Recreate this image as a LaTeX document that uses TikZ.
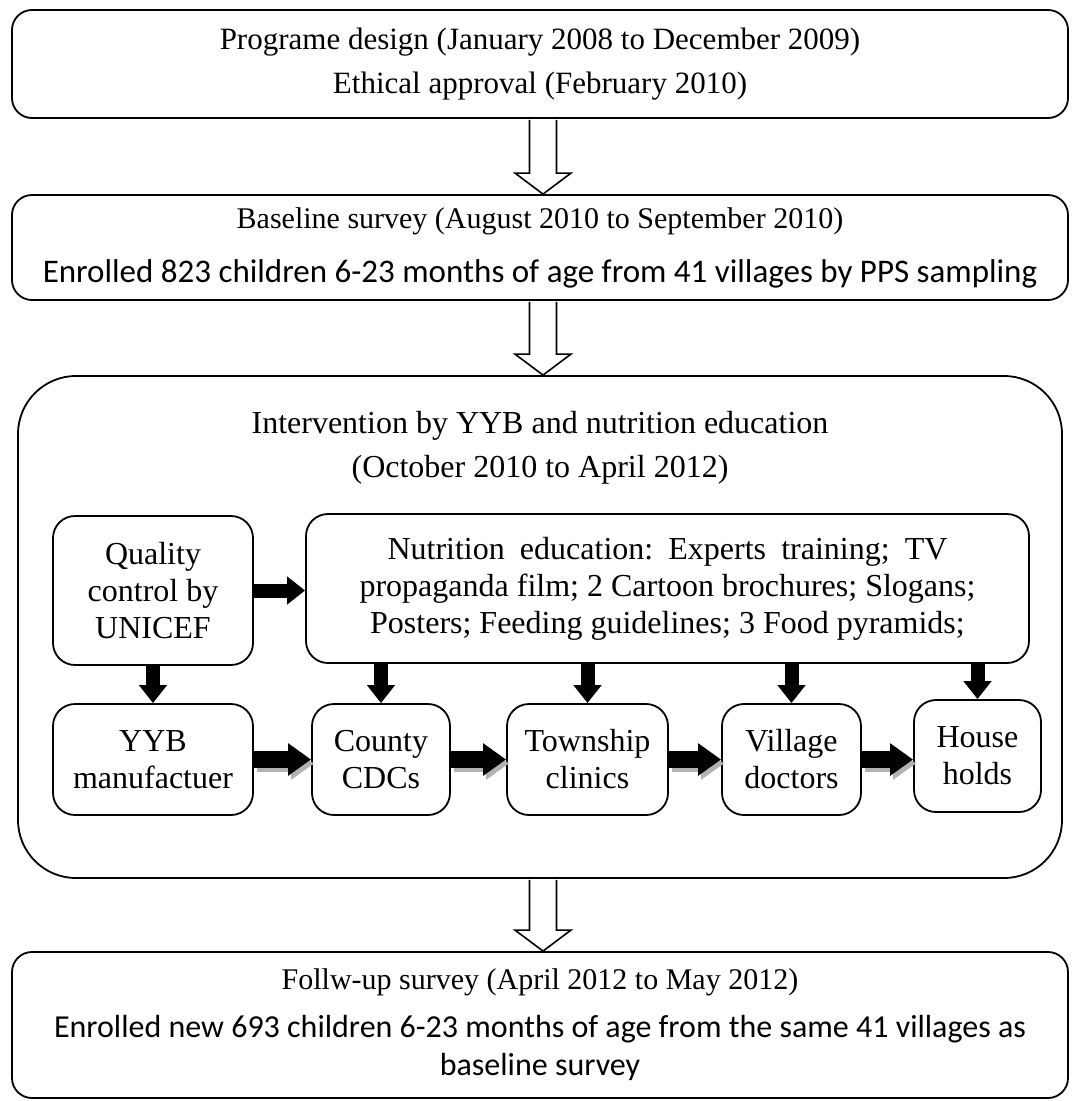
\documentclass[tikz,border=0pt]{standalone}
\usepackage{fontspec}
\setmainfont{Liberation Serif}
\newfontfamily\calib{Carlito}
\usetikzlibrary{arrows.meta,calc}
\tikzset{
  box/.style={draw, line width=1.8pt, rounded corners=20pt, align=center, inner sep=0pt},
  inbox/.style={draw, line width=1.8pt, rounded corners=22pt, align=center, inner sep=0pt,
    font=\fontsize{32}{37}\selectfont},
  hollowarr/.style={draw, line width=1.6pt, fill=white, line join=miter},
  fatarr/.style={line width=14pt, -{Triangle[width=27pt,length=18pt]}},
  fatterarr/.style={line width=17pt, -{Triangle[width=31pt,length=23pt]}},
  shadowarr/.style={fatterarr, black!30, transform canvas={shift={(3pt,-4pt)}}},
}
\newcommand\hollowarrow[2]{%
  \path[hollowarr] let \p1=(#1), \p2=(#2) in
    (\x1-13.5pt,\y1-1pt) -- (\x1-13.5pt,\y2+21pt) -- (\x1-28pt,\y2+21pt) -- (\x1,\y2)
    -- (\x1+28pt,\y2+21pt) -- (\x1+13.5pt,\y2+21pt) -- (\x1+13.5pt,\y1-1pt);}
\begin{document}
\frenchspacing
\begin{tikzpicture}[x=1pt,y=-1pt]
\useasboundingbox (0,0) rectangle (1078,1101);
\fill[white] (0,0) rectangle (1078,1101);

% top boxes
\node[box, minimum width=1056pt, minimum height=108pt, font=\fontsize{31}{44}\selectfont]
  (design) at (540,64) {Programe design (January 2008 to December 2009)\\Ethical approval (February 2010)};
\node[box, minimum width=1056pt, minimum height=105pt, font=\fontsize{30}{54}\selectfont]
  (base) at (540,247.5) {{\fontsize{30}{54}\selectfont Baseline survey (August 2010 to September 2010)}\\
  {\calib\fontsize{33}{54}\selectfont Enrolled 823 children 6-23 months of age from 41 villages by PPS sampling}};

% intervention box
\node[box, rounded corners=58pt, minimum width=1044pt, minimum height=502pt] (interv) at (540,627) {};
\node[align=center, font=\fontsize{32}{44}\selectfont, inner sep=0pt] (ititle) at (540,448)
  {Intervention by YYB and nutrition education\\(October 2010 to April 2012)};

\node[inbox, minimum width=200pt, minimum height=149pt] (qual) at (153,590.5) {Quality\\control by\\UNICEF};
\node[inbox, minimum width=723pt, minimum height=149pt] (nutri) at (667.5,588.5)
  {\makebox[560pt][s]{Nutrition education: Experts training; TV}\\propaganda film; 2 Cartoon brochures; Slogans;\\Posters; Feeding guidelines; 3 Food pyramids;};

\node[inbox, minimum width=200pt, minimum height=111pt] (yyb) at (153,759.5) {YYB\\manufactuer};
\node[inbox, minimum width=138pt, minimum height=111pt] (county) at (381,759.5) {County\\CDCs};
\node[inbox, minimum width=161pt, minimum height=111pt] (town) at (587.5,759.5) {Township\\clinics};
\node[inbox, minimum width=139pt, minimum height=111pt] (village) at (791.5,759.5) {Village\\doctors};
\node[inbox, minimum width=127pt, minimum height=112pt] (house) at (977.5,756) {House\\holds};

% bottom box
\node[box, minimum width=1056pt, minimum height=146pt, font=\fontsize{32}{38}\selectfont] (follow) at (540,1025)
  {{\fontsize{30}{38}\selectfont Follw-up survey (April 2012 to May 2012)}\\[10pt]
   {\calib\fontsize{32}{38}\selectfont Enrolled new 693 children 6-23 months of age from the same 41 villages as}\\
   {\calib\fontsize{32}{38}\selectfont baseline survey}};

% hollow arrows
\hollowarrow{$(design.south)+(3,0)$}{$(base.north)+(3,0)$}
\hollowarrow{$(base.south)+(3,0)$}{$(interv.north)+(3,0)$}
\hollowarrow{$(interv.south)+(3,0)$}{$(follow.north)+(3,0)$}

% black arrows
\draw[fatarr] (qual.east) -- (qual.east -| nutri.west);
\draw[fatarr] (qual.south) -- (yyb.north);
\draw[fatarr] (nutri.south -| county.north) -- (county.north);
\draw[fatarr] (nutri.south -| town.north) -- (town.north);
\draw[fatarr] (nutri.south -| village.north) -- (village.north);
\draw[fatarr] (nutri.south -| house.north) -- (house.north);

\draw[shadowarr] (yyb.east) -- (county.west);
\draw[shadowarr] (county.east) -- (town.west);
\draw[shadowarr] (town.east) -- (village.west);
\draw[shadowarr] (village.east) -- (house.west |- village.east);
\draw[fatterarr] (yyb.east) -- (county.west);
\draw[fatterarr] (county.east) -- (town.west);
\draw[fatterarr] (town.east) -- (village.west);
\draw[fatterarr] (village.east) -- (house.west |- village.east);
\end{tikzpicture}
\end{document}
